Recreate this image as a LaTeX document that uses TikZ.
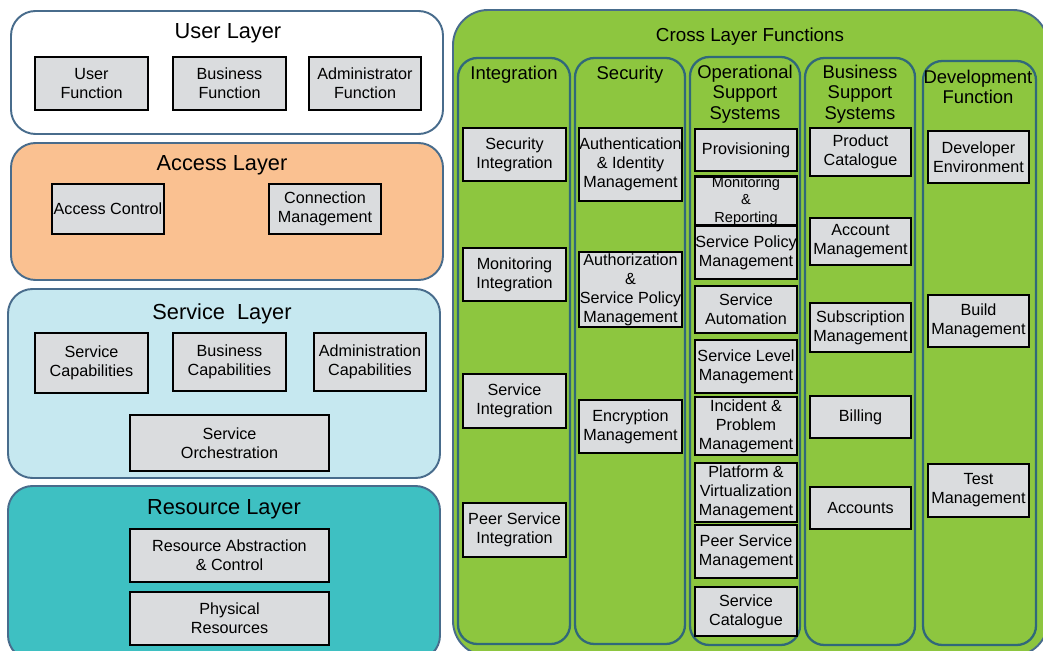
\documentclass[tikz,border=0pt]{standalone}
\usepackage{fontspec}
\setmainfont{Liberation Sans}
\usepackage{xcolor}
\usepackage{tikz}

\definecolor{layerline}{RGB}{72,108,140}
\definecolor{colline}{RGB}{48,104,122}
\definecolor{accessfill}{RGB}{250,193,145}
\definecolor{servicefill}{RGB}{198,232,240}
\definecolor{resourcefill}{RGB}{62,192,194}
\definecolor{crossfill}{RGB}{141,198,63}
\definecolor{boxgray}{RGB}{218,220,222}

\tikzset{
  layer/.style={draw=layerline,line width=1.1pt,rounded corners=14pt},
  column/.style={draw=colline,line width=1.3pt,rounded corners=11pt},
  fn/.style 2 args={draw=black,line width=1.3pt,fill=boxgray,align=center,
    inner sep=0pt,minimum width=#1*0.02cm,minimum height=#2*0.02cm,
    font=\fontsize{9.2}{10.8}\selectfont},
  layertitle/.style={font=\fontsize{12.4}{14}\selectfont},
  coltitle/.style={align=center,font=\fontsize{10.5}{11.7}\selectfont}
}

\begin{document}
\begin{tikzpicture}[x=0.02cm,y=-0.02cm]
\useasboundingbox (0,0) rectangle (1043,651);
\fill[white] (0,0) rectangle (1043,651);

% left side layers
\draw[layer,fill=white] (11,11) rectangle (443,134);
\node[layertitle] (userT) at (228,33) {User Layer};
\node[fn={113}{53}] (userFn) at (91.5,83.5) {User\\Function};
\node[fn={113}{53}] (busFn) at (229.5,83.5) {Business\\Function};
\node[fn={112}{53}] (admFn) at (365,83.5) {Administrator\\Function};

\draw[layer,fill=accessfill] (11,143) rectangle (443,280);
\node[layertitle] (accessT) at (222,165) {Access Layer};
\node[fn={112}{50}] (accCtl) at (108,209) {Access Control};
\node[fn={112}{50}] (conMgmt) at (325,209) {Connection\\Management};

\draw[layer,fill=servicefill] (8,289) rectangle (440,478);
\node[layertitle] (serviceT) at (222,314) {Service\ \ Layer};
\node[fn={113}{60}] (srvCap) at (91.5,363) {Service\\Capabilities};
\node[fn={113}{58}] (busCap) at (229.5,362) {Business\\Capabilities};
\node[fn={112}{58}] (admCap) at (370,362) {Administration\\Capabilities};
\node[fn={199}{56}] (srvOrch) at (229.5,443) {Service\\Orchestration};

\draw[layer,fill=resourcefill] (8,486) rectangle (440,660);
\node[layertitle] (resourceT) at (224,509) {Resource Layer};
\node[fn={199}{53}] (resAbs) at (229.5,555.5) {Resource Abstraction\\\& Control};
\node[fn={199}{53}] (physRes) at (229.5,618.5) {Physical\\Resources};

% cross layer functions
\draw[layer,fill=crossfill,rounded corners=20pt] (453,10) rectangle (1048,656);
\node[font=\fontsize{10.7}{12}\selectfont] (crossT) at (750,37) {Cross Layer Functions};

\draw[column] (458,58) rectangle (570,644);
\draw[column] (575,58) rectangle (685,644);
\draw[column] (690,57) rectangle (800,645);
\draw[column] (805,58) rectangle (915,645);
\draw[column] (923,61) rectangle (1036,645);

\node[coltitle] (intT) at (514,75) {Integration};
\node[coltitle] (secT) at (630,75) {Security};
\node[coltitle] (ossT) at (745,94) {Operational\\Support\\Systems};
\node[coltitle] (bssT) at (860,94) {Business\\Support\\Systems};
\node[coltitle] (devT) at (978,87) {Development\\Function};

% integration
\node[fn={103}{53}] (secInt) at (514.5,154.5) {Security\\Integration};
\node[fn={103}{53}] (monInt) at (514.5,274.5) {Monitoring\\Integration};
\node[fn={103}{54}] (srvInt) at (514.5,401) {Service\\Integration};
\node[fn={103}{54}] (peerInt) at (514.5,530) {Peer Service\\Integration};

% security
\node[fn={103}{73}] (authN) at (630.5,164.5) {Authentication\\\& Identity\\Management};
\node[fn={103}{75}] (authZ) at (630.5,289.5) {Authorization\\\&\\Service Policy\\Management};
\node[fn={103}{53}] (encMgmt) at (630.5,426.5) {Encryption\\Management};

% operational support systems
\node[fn={102}{42}] (prov) at (746,150) {Provisioning};
\node[fn={102}{45},font=\fontsize{8.3}{10}\selectfont] (monRep) at (746,201) {Monitoring\\\&\\Reporting};
\node[fn={102}{53}] (spMgmt) at (746,252.5) {Service Policy\\Management};
\node[fn={102}{47}] (srvAuto) at (746,309.5) {Service\\Automation};
\node[fn={102}{53}] (slMgmt) at (746,366.5) {Service Level\\Management};
\node[fn={102}{58}] (ipMgmt) at (746,426) {Incident \&\\Problem\\Management};
\node[fn={102}{59}] (pvMgmt) at (746,492.5) {Platform \&\\Virtualization\\Management};
\node[fn={102}{53}] (psMgmt) at (746,551.5) {Peer Service\\Management};
\node[fn={102}{49}] (srvCat) at (746,611.5) {Service\\Catalogue};

% business support systems
\node[fn={101}{48}] (prodCat) at (860.5,152) {Product\\Catalogue};
\node[fn={101}{47}] (accMgmt) at (860.5,241.5) {Account\\Management};
\node[fn={101}{49}] (subMgmt) at (860.5,327.5) {Subscription\\Management};
\node[fn={101}{42}] (billing) at (860.5,417) {Billing};
\node[fn={101}{42}] (accounts) at (860.5,508) {Accounts};

% development function
\node[fn={101}{52}] (devEnv) at (978.5,157) {Developer\\Environment};
\node[fn={101}{52}] (buildMgmt) at (978.5,321) {Build\\Management};
\node[fn={101}{53}] (testMgmt) at (978.5,490.5) {Test\\Management};
\end{tikzpicture}
\end{document}
